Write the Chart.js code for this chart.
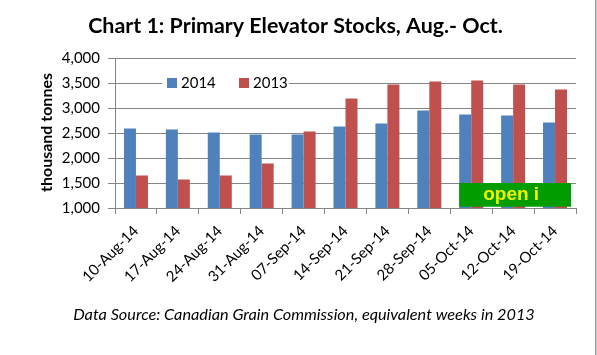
<!DOCTYPE html>
<html><head><meta charset="utf-8">
<script src="https://cdn.jsdelivr.net/npm/chart.js@4.4.1/dist/chart.umd.min.js"></script>
<style>html,body{margin:0;padding:0;background:#fff;overflow:hidden}
#wrap{position:relative;width:597px;height:355px}</style>
</head><body><div id="wrap"><canvas id="c" width="597" height="355"></canvas></div>
<script>
const categories = ['10-Aug-14','17-Aug-14','24-Aug-14','31-Aug-14','07-Sep-14','14-Sep-14','21-Sep-14','28-Sep-14','05-Oct-14','12-Oct-14','19-Oct-14'];
const seriesLabels = ['2014', '2013'];
const values2014 = [2590, 2570, 2510, 2470, 2470, 2630, 2690, 2950, 2870, 2850, 2710];
const values2013 = [1650, 1570, 1650, 1890, 2530, 3190, 3470, 3530, 3550, 3470, 3370];
const yTickValues = [1000, 1500, 2000, 2500, 3000, 3500, 4000];
const titleText = 'Chart 1: Primary Elevator Stocks, Aug.- Oct.';
const yAxisTitle = 'thousand tonnes';
const footerText = 'Data Source: Canadian Grain Commission, equivalent weeks in 2013';
const overlayText = 'open i';

const BLUE = '#4F81BD', RED = '#C0504D', GRID = '#868686';
const FAMILY = 'Lato, "Open Sans", sans-serif';

function fitSize(ctx, text, prefix, target) {
  ctx.save();
  ctx.font = prefix + ' 100px ' + FAMILY;
  const w = ctx.measureText(text).width;
  ctx.restore();
  return 100 * target / w;
}

const decor = {
  id: 'decor',
  afterDatasetsDraw(chart) {
    const ctx = chart.ctx, x = chart.scales.x, y = chart.scales.y;
    const left = x.getPixelForValue(8) - 12;
    const right = x.getPixelForValue(10) + 16;
    const top = y.getPixelForValue(1500);
    const bottom = y.getPixelForValue(1025);
    ctx.save();
    ctx.fillStyle = '#009C00';
    ctx.fillRect(left, top, right - left, bottom - top);
    ctx.fillStyle = '#F2F200';
    ctx.font = 'bold 19px "Liberation Sans", Arial, sans-serif';
    ctx.textAlign = 'center';
    ctx.textBaseline = 'middle';
    ctx.fillText(overlayText, (left + right) / 2 - 4, (top + bottom) / 2);
    ctx.restore();
  },
  afterDraw(chart) {
    const ctx = chart.ctx;
    ctx.save();
    // title
    let s = fitSize(ctx, titleText, 'bold', 415);
    ctx.font = 'bold ' + s + 'px ' + FAMILY;
    ctx.fillStyle = '#000';
    ctx.textAlign = 'center';
    ctx.textBaseline = 'alphabetic';
    ctx.fillText(titleText, 295.5, 33);
    // footer
    s = fitSize(ctx, footerText, 'italic', 462);
    ctx.font = 'italic ' + s + 'px ' + FAMILY;
    ctx.fillText(footerText, 304, 320);
    // y axis title
    s = fitSize(ctx, yAxisTitle, 'bold', 119);
    ctx.save();
    ctx.translate(47, 132.5);
    ctx.rotate(-Math.PI / 2);
    ctx.font = 'bold ' + s + 'px ' + FAMILY;
    ctx.textBaseline = 'middle';
    ctx.fillText(yAxisTitle, 0, 0);
    ctx.restore();
    // legend
    ctx.fillStyle = '#fff';
    ctx.fillRect(162, 72, 127, 21);
    const cols = [BLUE, RED];
    const xs = [167, 239];
    ctx.font = '15px ' + FAMILY;
    ctx.textAlign = 'left';
    ctx.textBaseline = 'middle';
    for (let i = 0; i < 2; i++) {
      ctx.fillStyle = cols[i];
      ctx.fillRect(xs[i], 78, 10, 10);
      ctx.fillStyle = '#000';
      ctx.fillText(seriesLabels[i], xs[i] + 14, 83);
    }
    // frame border
    ctx.strokeStyle = '#9a9a9a';
    ctx.lineWidth = 1.5;
    ctx.beginPath();
    ctx.moveTo(595.75, 0);
    ctx.lineTo(595.75, 355);
    ctx.stroke();
    ctx.restore();
  }
};

new Chart(document.getElementById('c'), {
  type: 'bar',
  data: {
    labels: categories,
    datasets: [
      { label: seriesLabels[0], data: values2014, backgroundColor: BLUE, borderWidth: 0, categoryPercentage: 0.573, barPercentage: 1 },
      { label: seriesLabels[1], data: values2013, backgroundColor: RED, borderWidth: 0, categoryPercentage: 0.573, barPercentage: 1 }
    ]
  },
  options: {
    responsive: false,
    devicePixelRatio: 1,
    animation: false,
    layout: { padding: { left: 0, right: 21, top: 58, bottom: 0 } },
    plugins: { legend: { display: false }, title: { display: false }, tooltip: { enabled: false } },
    scales: {
      x: {
        afterFit(scale) { scale.height = 147; },
        grid: { display: true, drawOnChartArea: false, drawTicks: true, tickLength: 6, color: GRID, offset: true },
        border: { display: true, color: GRID },
        ticks: { autoSkip: false, maxRotation: 45, minRotation: 45, color: '#000', font: { family: FAMILY, size: 15 }, padding: 8 }
      },
      y: {
        min: 1000, max: 4000,
        afterFit(scale) { scale.width = 115; },
        afterBuildTicks(scale) { scale.ticks = yTickValues.map(v => ({ value: v })); },
        grid: { color: GRID, tickLength: 7, drawTicks: true },
        border: { display: true, color: GRID },
        ticks: { color: '#000', font: { family: FAMILY, size: 15 }, padding: 8,
          callback: v => v.toLocaleString('en-US') }
      }
    }
  },
  plugins: [decor]
});
</script></body></html>
